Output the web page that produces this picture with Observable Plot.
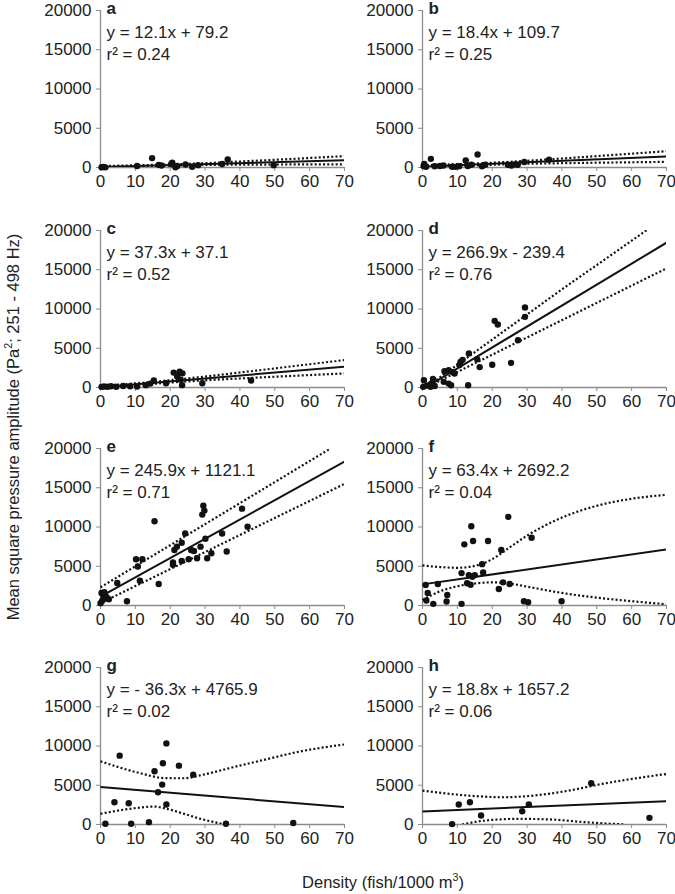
<!DOCTYPE html>
<html><head><meta charset="utf-8">
<script src="https://cdn.jsdelivr.net/npm/d3@7"></script>
<script src="https://cdn.jsdelivr.net/npm/@observablehq/plot@0.6"></script>
<style>
body{margin:0;background:#fff;}
#wrap{position:relative;width:675px;height:894px;font-family:"Liberation Sans",Arial,sans-serif;color:#222;overflow:hidden;}
.panel{position:absolute;}
#ylab{position:absolute;left:13px;top:427px;transform:translate(-50%,-50%) rotate(-90deg);white-space:nowrap;font-size:16.5px;}
#xlab{position:absolute;left:383px;top:882px;transform:translate(-50%,-50%);white-space:nowrap;font-size:16.5px;}
sup{font-size:0.65em;vertical-align:super;line-height:0;}
</style></head>
<body>
<div id="wrap">
  <div id="ylab">Mean square pressure amplitude (Pa<sup>2</sup>; 251 - 498 Hz)</div>
  <div id="xlab">Density (fish/1000 m<sup>3</sup>)</div>
</div>
<script>
// ---- tick labels ----
const xTicks = [0, 10, 20, 30, 40, 50, 60, 70];
const yTicks = [0, 5000, 10000, 15000, 20000];
const letters = ["a", "b", "c", "d", "e", "f", "g", "h"];
const equations = ["y = 12.1x + 79.2", "y = 18.4x + 109.7", "y = 37.3x + 37.1", "y = 266.9x - 239.4",
  "y = 245.9x + 1121.1", "y = 63.4x + 2692.2", "y = - 36.3x + 4765.9", "y = 18.8x + 1657.2"];
const r2Values = ["0.24", "0.25", "0.52", "0.76", "0.71", "0.04", "0.02", "0.06"];

// ---- data points [density, amplitude] ----
const pointsA = [[0.3,30],[0.8,60],[1.4,20],[10.5,200],[14.8,1200],[16.7,340],[17.5,250],[20.3,450],[20.6,600],[21.5,40],[22,200],[24.4,380],[26.3,80],[28,300],[34.9,450],[36.5,1020],[49.7,300]];
const pointsB = [[0.3,200],[0.5,450],[1,100],[2.4,1100],[3.5,150],[5,200],[6,250],[8.5,100],[9.5,80],[10.5,150],[12.4,900],[13,200],[14,350],[15.8,1650],[17.1,150],[18,350],[24.5,350],[25.5,250],[26.5,400],[27.3,350],[29.2,700],[36.3,1000]];
const pointsC = [[0.3,80],[1,120],[2,100],[3,150],[4.5,100],[6.5,200],[8.5,150],[10.5,120],[13,300],[14.3,500],[15.3,900],[18.8,550],[21,1900],[22,1400],[22.7,2000],[23.5,1800],[23,1000],[23.4,300],[29.2,550],[43.2,900]];
const pointsD = [[0.2,80],[0.4,930],[1.3,250],[2.3,80],[2.5,500],[3,1100],[3.5,200],[6.1,720],[6.3,2080],[7.5,2200],[7.5,500],[8.2,290],[8.7,1950],[9.2,1780],[10.6,2870],[10.9,3260],[11.5,3520],[13.1,290],[13.3,4330],[15.7,3600],[16.4,2600],[20,2900],[20.7,8490],[21.6,8020],[25.4,3140],[27.4,6030],[29.4,10190],[29.4,9000]];
const pointsE = [[0,300],[0.3,1600],[0.5,600],[1,1000],[1.1,1680],[1.7,1100],[2.4,800],[4.8,2870],[7.6,550],[10.2,5900],[10.7,4970],[11.3,3160],[12,5900],[15.5,10740],[16.7,2740],[20.8,5480],[20.8,5200],[21.2,7070],[21.9,7500],[23.3,8000],[23.3,5680],[24.3,9180],[25.3,5900],[26,7070],[26.8,6950],[27.7,6020],[28.7,7500],[29.2,11580],[29.5,12720],[29.8,12090],[30.1,8510],[30.6,6020],[31.8,6660],[34.9,9180],[36.2,6870],[40.6,12340],[42.2,10030]];
const pointsF = [[0.9,2610],[1.5,1600],[1.1,630],[3.1,210],[4.4,2740],[7.1,1350],[6.9,510],[11.2,210],[11.2,4130],[12,7790],[12.8,2830],[13.3,3870],[13.8,2650],[14,10100],[14.3,3660],[14.5,8210],[15,3870],[17.1,5270],[17.4,4210],[18.8,8210],[21.9,2110],[22.6,7070],[23.1,2950],[24.6,11290],[25,2740],[29.1,550],[30.3,420],[31.3,8640],[39.9,550]];
const pointsG = [[1.4,100],[4,2840],[5.5,8770],[8.1,2710],[8.8,100],[13.9,300],[15.5,6780],[16.5,4110],[17.9,7800],[17.7,5080],[18.9,10330],[18.9,2540],[22.5,7500],[26.6,6350],[36,100],[55.3,190]];
const pointsH = [[8.5,50],[10.4,2540],[13.6,2840],[16.8,1140],[28.6,1690],[30.5,2540],[48.4,5250],[65.1,850]];

// ---- regression lines (read endpoints) ----
const fitA = [[0,79],[70,926]];
const fitB = [[0,110],[70,1398]];
const fitC = [[0,37],[70,2648]];
const fitD = [[0.9,0],[70,18444]];
const fitE = [[0,1121],[70,18334]];
const fitF = [[0,2692],[70,7130]];
const fitG = [[0,4766],[70,2225]];
const fitH = [[0,1657],[70,2973]];

// ---- confidence bands ----
const upperA = [[0,190],[10,280],[20,400],[30,550],[40,760],[50,980],[60,1210],[70,1450]];
const lowerA = [[0,0],[10,120],[20,240],[30,330],[40,360],[50,380],[60,395],[70,405]];
const upperB = [[0,290],[10,424],[20,608],[30,852],[40,1146],[50,1450],[60,1764],[70,2078]];
const lowerB = [[0,0],[10,164],[20,348],[30,472],[40,546],[50,610],[60,664],[70,718]];
const upperC = [[0,187],[10,530],[20,933],[30,1396],[40,1909],[50,2432],[60,2965],[70,3498]];
const lowerC = [[0,0],[10,290],[20,633],[30,916],[40,1149],[50,1372],[60,1585],[70,1798]];
const upperD = [[1,0],[10,2900],[20,6100],[30,9300],[40,12500],[50,15600],[60,18700],[64.5,20100]];
const lowerD = [[1,0],[10,1980],[20,4180],[30,6380],[40,8580],[50,10780],[60,12980],[70,15180]];
const upperE = [[0,2320],[10,5000],[20,7680],[30,10360],[40,13040],[50,15720],[60,18400],[66,20000]];
const lowerE = [[0,300],[10,2470],[20,4640],[30,6810],[40,8980],[50,11150],[60,13320],[70,15490]];
const upperF = [[0,5100],[5,4900],[10,4800],[15,5050],[20,5900],[25,7400],[30,8900],[40,11200],[50,12700],[60,13600],[70,14100]];
const lowerF = [[0,700],[5,1800],[10,2450],[15,2800],[20,2950],[25,2800],[30,2400],[40,1600],[50,1000],[60,550],[70,150]];
const upperG = [[0,8050],[10,6700],[19,5900],[24,5890],[29,6300],[38,7290],[48,8350],[57,9280],[70,10200]];
const lowerG = [[0,1360],[9.6,2070],[15.3,2290],[19,2000],[24,1360],[28.7,720],[33.5,210],[35.5,0]];
const upperH = [[0,4320],[13,3690],[23,3470],[32,3690],[42,4320],[51.5,5170],[70,6440]];
const lowerH = [[11.4,0],[18,510],[27.6,720],[37.2,630],[46.8,290],[58.2,0]];

const pointSets = [pointsA, pointsB, pointsC, pointsD, pointsE, pointsF, pointsG, pointsH];
const fits = [fitA, fitB, fitC, fitD, fitE, fitF, fitG, fitH];
const uppers = [upperA, upperB, upperC, upperD, upperE, upperF, upperG, upperH];
const lowers = [lowerA, lowerB, lowerC, lowerD, lowerE, lowerF, lowerG, lowerH];

const columns = [{left: 0, ml: 100, w: 352}, {left: 352, ml: 70, w: 323}];
const rowTops = [0, 220, 438, 657];
const frameW = 244;
const font = "'Liberation Sans', Arial, sans-serif";
const ink = "#111";
const axisGray = "#8c8c8c";
const px = d => d[0], py = d => d[1];
const dotted = {stroke: ink, strokeWidth: 2.2, strokeDasharray: "2,2.2", strokeLinecap: "butt", curve: "monotone-x", clip: true};

const wrap = document.getElementById("wrap");
letters.forEach((letter, i) => {
  const col = columns[i % 2];
  const top = rowTops[Math.floor(i / 2)];
  const svg = Plot.plot({
    width: col.w, height: 197,
    marginTop: 10, marginBottom: 30, marginLeft: col.ml, marginRight: col.w - col.ml - frameW,
    style: {fontFamily: font, fontSize: "17px", color: "#222", background: "transparent", overflow: "visible"},
    x: {domain: [0, 70]},
    y: {domain: [0, 20000]},
    marks: [
      Plot.axisX(xTicks, {tickSize: 4, tickPadding: 3, stroke: axisGray, fill: "#222", label: null, tickFormat: d => String(d)}),
      Plot.axisY(yTicks, {tickSize: 4, tickPadding: 5, stroke: axisGray, fill: "#222", label: null, tickFormat: d => String(d)}),
      Plot.ruleY([0], {stroke: axisGray, strokeWidth: 1.3}),
      Plot.ruleX([0], {stroke: axisGray, strokeWidth: 1.3}),
      Plot.line(uppers[i], {x: px, y: py, ...dotted}),
      Plot.line(lowers[i], {x: px, y: py, ...dotted}),
      Plot.line(fits[i], {x: px, y: py, stroke: ink, strokeWidth: 2, strokeLinecap: "butt", clip: true}),
      Plot.dot(pointSets[i], {x: px, y: py, r: 3.2, fill: ink, stroke: null}),
      Plot.text([letter], {text: d => d, frameAnchor: "top-left", textAnchor: "start", lineAnchor: "bottom", dx: 6, dy: 3, fontWeight: "bold", fill: "#222"}),
      Plot.text([equations[i]], {text: d => d, frameAnchor: "top-left", textAnchor: "start", lineAnchor: "bottom", dx: 6, dy: 27, fill: "#222"}),
      Plot.text([r2Values[i]], {text: d => "r\u00B2 = " + d, frameAnchor: "top-left", textAnchor: "start", lineAnchor: "bottom", dx: 6, dy: 49, fill: "#222"})
    ]
  });
  svg.classList.add("panel");
  svg.style.left = col.left + "px";
  svg.style.top = top + "px";
  svg.style.position = "absolute";
  wrap.appendChild(svg);
});
</script>
</body></html>
